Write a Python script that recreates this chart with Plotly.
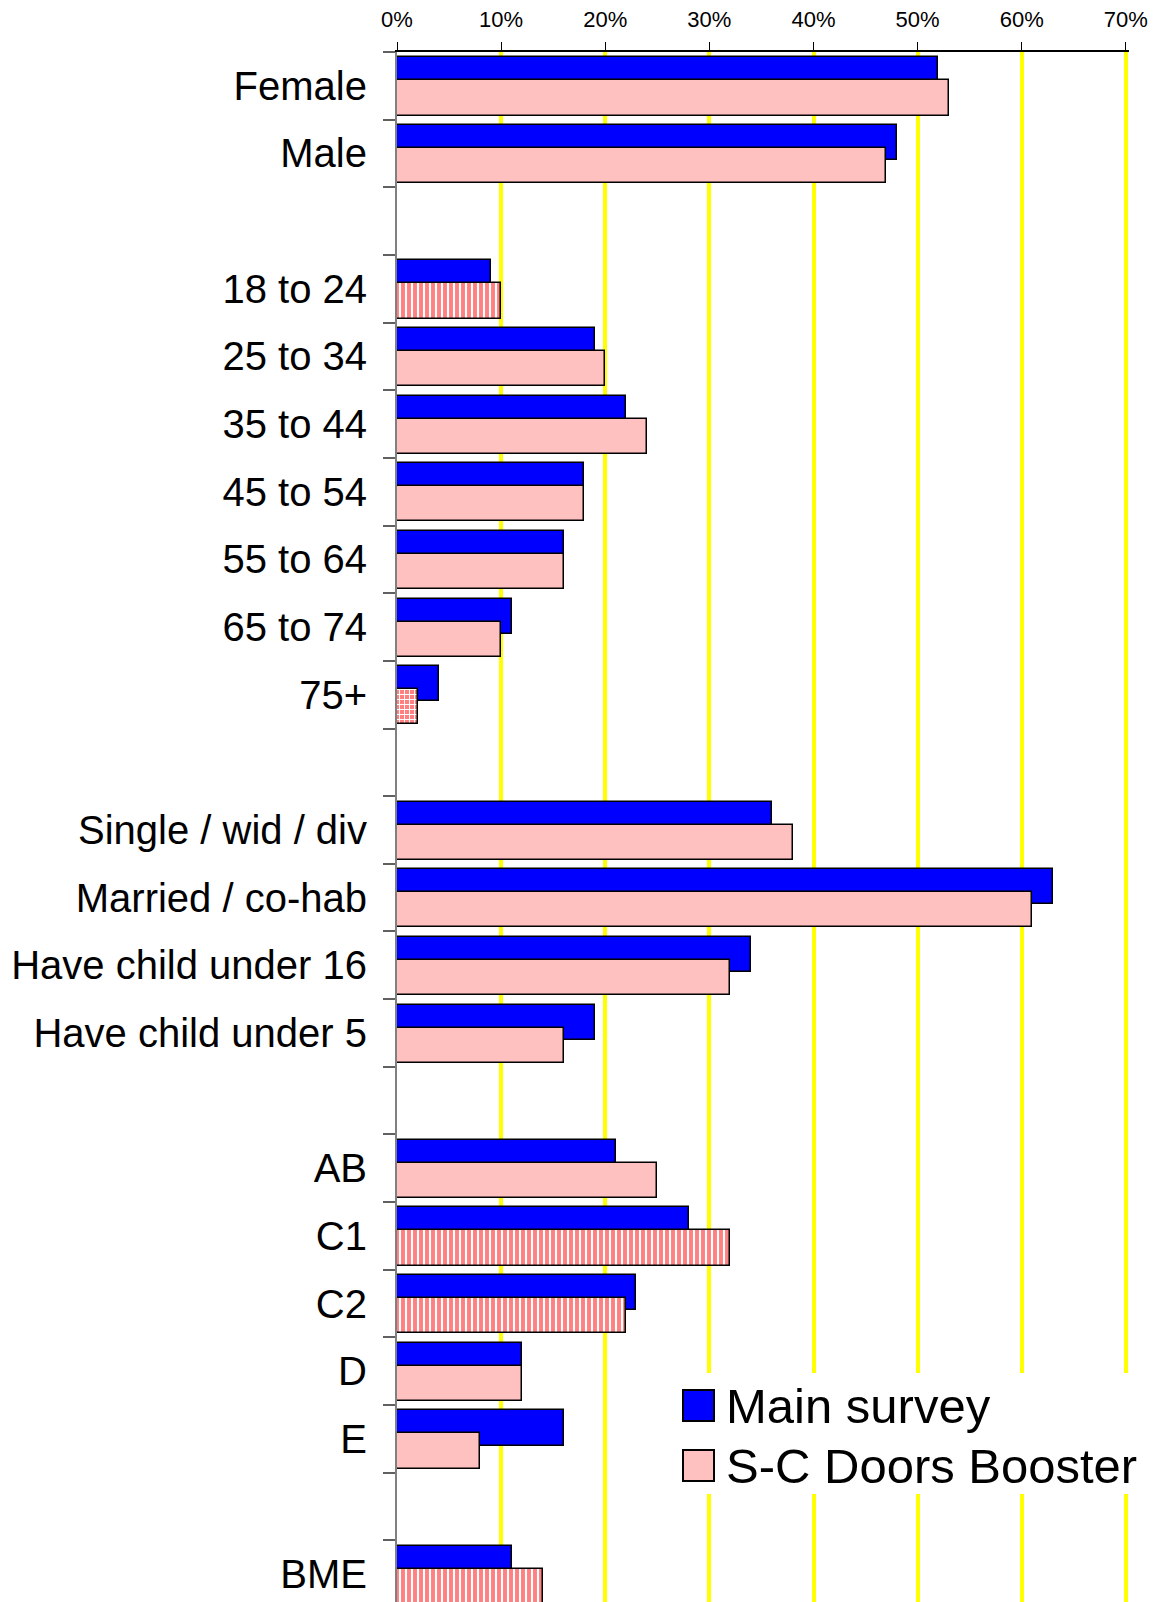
import plotly.graph_objects as go

categories = ["Female", "Male", " ",
              "18 to 24", "25 to 34", "35 to 44", "45 to 54", "55 to 64", "65 to 74", "75+", "  ",
              "Single / wid / div", "Married / co-hab", "Have child under 16", "Have child under 5", "   ",
              "AB", "C1", "C2", "D", "E", "    ",
              "BME"]
main_survey = [52, 48, None,
               9, 19, 22, 18, 16, 11, 4, None,
               36, 63, 34, 19, None,
               21, 28, 23, 12, 16, None,
               11]
booster = [53, 47, None,
           10, 20, 24, 18, 16, 10, 2, None,
           38, 61, 32, 16, None,
           25, 32, 22, 12, 8, None,
           14]
# rendering pattern seen on some booster bars in the original
booster_pattern = ["", "", "",
                   "|", "", "", "", "", "", "+", "",
                   "", "", "", "", "",
                   "", "|", "|", "", "", "",
                   "|"]
x_ticks = [0, 10, 20, 30, 40, 50, 60, 70]
x_tick_labels = ["0%", "10%", "20%", "30%", "40%", "50%", "60%", "70%"]

FONT = "Arial, Liberation Sans, sans-serif"
BLUE = "#0000FF"
PINK = "#FFC0C0"
SALMON = "#FF8080"

pattern_sizes = [5 if p == "+" else 6 for p in booster_pattern]

fig = go.Figure()
fig.add_trace(go.Bar(
    y=categories, x=main_survey, orientation="h", name="Main survey",
    width=0.52, offset=-0.42,
    marker=dict(color=BLUE, line=dict(color="black", width=1.5)),
    showlegend=False, hoverinfo="x+y",
))
fig.add_trace(go.Bar(
    y=categories, x=booster, orientation="h", name="S-C Doors Booster",
    width=0.52, offset=-0.08,
    marker=dict(color=PINK, line=dict(color="black", width=1.5),
                pattern=dict(shape=booster_pattern, fgcolor="#FFFFFF", bgcolor=SALMON,
                             fillmode="replace", size=pattern_sizes, solidity=0.35)),
    showlegend=False, hoverinfo="x+y",
))

left_px, right_px, top_px, H = 397, 1129, 52, 1602
plot_h = H - top_px
cat_px = 67.65
y_bottom = -0.5 + plot_h / cat_px

fig.update_layout(
    width=1157, height=1602,
    margin=dict(l=left_px, r=1157 - right_px, t=top_px, b=0, pad=0),
    plot_bgcolor="white", paper_bgcolor="white",
    barmode="overlay", bargap=0,
    font=dict(family=FONT, color="black"),
    xaxis=dict(side="top", range=[0, 70.3], tickvals=x_ticks, ticktext=x_tick_labels,
               showgrid=True, gridcolor="#FFFF00", gridwidth=3.5,
               showline=True, linecolor="black", linewidth=1.5,
               ticks="outside", ticklen=8, tickcolor="black", tickwidth=1.2,
               ticklabelstandoff=6,
               tickfont=dict(size=22, family=FONT), zeroline=False, fixedrange=True),
    yaxis=dict(categoryorder="array", categoryarray=categories, type="category",
               range=[y_bottom, -0.5],
               showline=True, linecolor="#808080", linewidth=2,
               ticks="outside", ticklen=12, tickcolor="#606060", tickwidth=1.5,
               tickson="boundaries", ticklabelstandoff=20,
               tickfont=dict(size=40, family=FONT), showgrid=False, zeroline=False),
)

# legend drawn by hand to get the large swatches of the original
def px_x(p):
    return (p - left_px) / (right_px - left_px)

def px_y(p):
    return 1 - (p - top_px) / plot_h

# white legend background hiding the gridlines
fig.add_shape(type="rect", xref="paper", yref="paper", layer="above",
              x0=px_x(670), x1=px_x(1157), y0=px_y(1494), y1=px_y(1373),
              fillcolor="white", line=dict(width=0))

legend_items = [("Main survey", BLUE, 1390), ("S-C Doors Booster", PINK, 1450)]
for label, col, ytop in legend_items:
    fig.add_shape(type="rect", xref="paper", yref="paper", layer="above",
                  x0=px_x(683), x1=px_x(714), y0=px_y(ytop + 31), y1=px_y(ytop),
                  fillcolor=col, line=dict(color="black", width=2))
    fig.add_annotation(xref="paper", yref="paper", x=px_x(724), y=px_y(ytop + 16),
                       text=label, showarrow=False, xanchor="left", yanchor="middle",
                       font=dict(size=49, family=FONT, color="black"))

fig.write_html("out.html")
